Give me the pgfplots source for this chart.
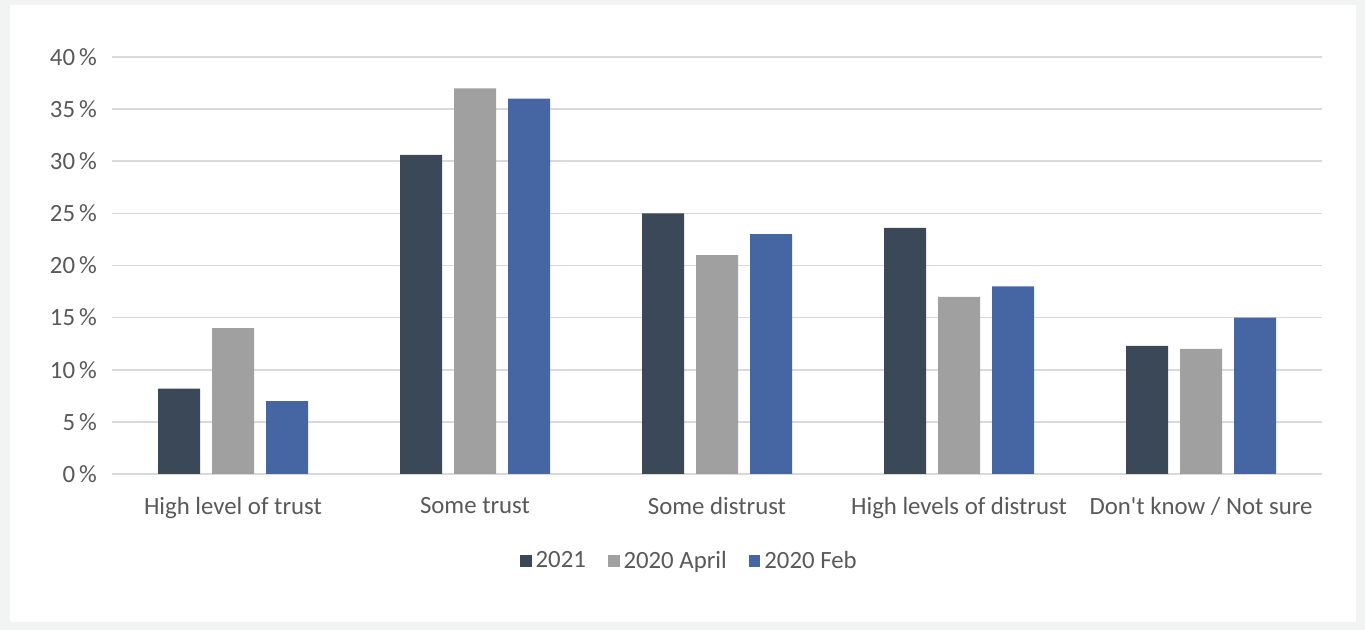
\documentclass[border=0pt]{standalone}
\usepackage{pgfplots}
\pgfplotsset{compat=1.18}
\usepackage{fontspec}
\setmainfont{Carlito}[Ligatures=TeXOff]
\definecolor{c2021}{HTML}{3B4858}
\definecolor{capr}{HTML}{A0A0A0}
\definecolor{cfeb}{HTML}{4666A3}
\definecolor{txt}{HTML}{595959}
\definecolor{grd}{HTML}{D9D9D9}
\definecolor{bgc}{HTML}{F2F4F4}
\begin{document}
\begin{tikzpicture}
\fill[bgc] (0,0) rectangle (682.5pt,315pt);
\fill[white] (5pt,4pt) rectangle (678pt,312.5pt);
\begin{axis}[
  at={(56pt,78pt)}, anchor=south west,
  scale only axis, width=605pt, height=208.5pt,
  xmin=-0.5, xmax=4.5, ymin=0, ymax=40,
  ytick={0,5,...,40},
  xtick={0,1,2,3,4},
  xticklabels={High level of trust, Some trust, Some distrust, High levels of distrust, Don't know / Not sure},
  yticklabel={\pgfmathprintnumber{\tick}\,\%},
  /pgf/number format/assume math mode=true,
  ymajorgrids, grid style={grd, line width=0.8pt},
  axis line style={draw=none},
  major tick length=0pt,
  tick label style={font=\fontsize{12.4pt}{14pt}\selectfont, text=txt},
  xticklabel style={yshift=-8pt},
  yticklabel style={xshift=-4pt},
  ybar, bar width=21pt,
  legend style={at={(0.478,-0.209)}, anchor=center, draw=none, legend columns=3,
    font=\fontsize{12.4pt}{14pt}\selectfont, text=txt,
    /tikz/every even column/.append style={column sep=9pt}},
  legend image code/.code={\fill[#1] (0pt,-2.9pt) rectangle (5.8pt,2.9pt);},
]
\addplot[fill=c2021, draw=none, bar shift=-27pt] coordinates {(0,8.2) (1,30.6) (2,25.0) (3,23.6) (4,12.3)};
\addplot[fill=capr, draw=none, bar shift=0pt] coordinates {(0,14) (1,37) (2,21) (3,17) (4,12)};
\addplot[fill=cfeb, draw=none, bar shift=27pt] coordinates {(0,7) (1,36) (2,23) (3,18) (4,15)};
\legend{2021, 2020 April, 2020 Feb}
\end{axis}
\end{tikzpicture}
\end{document}
